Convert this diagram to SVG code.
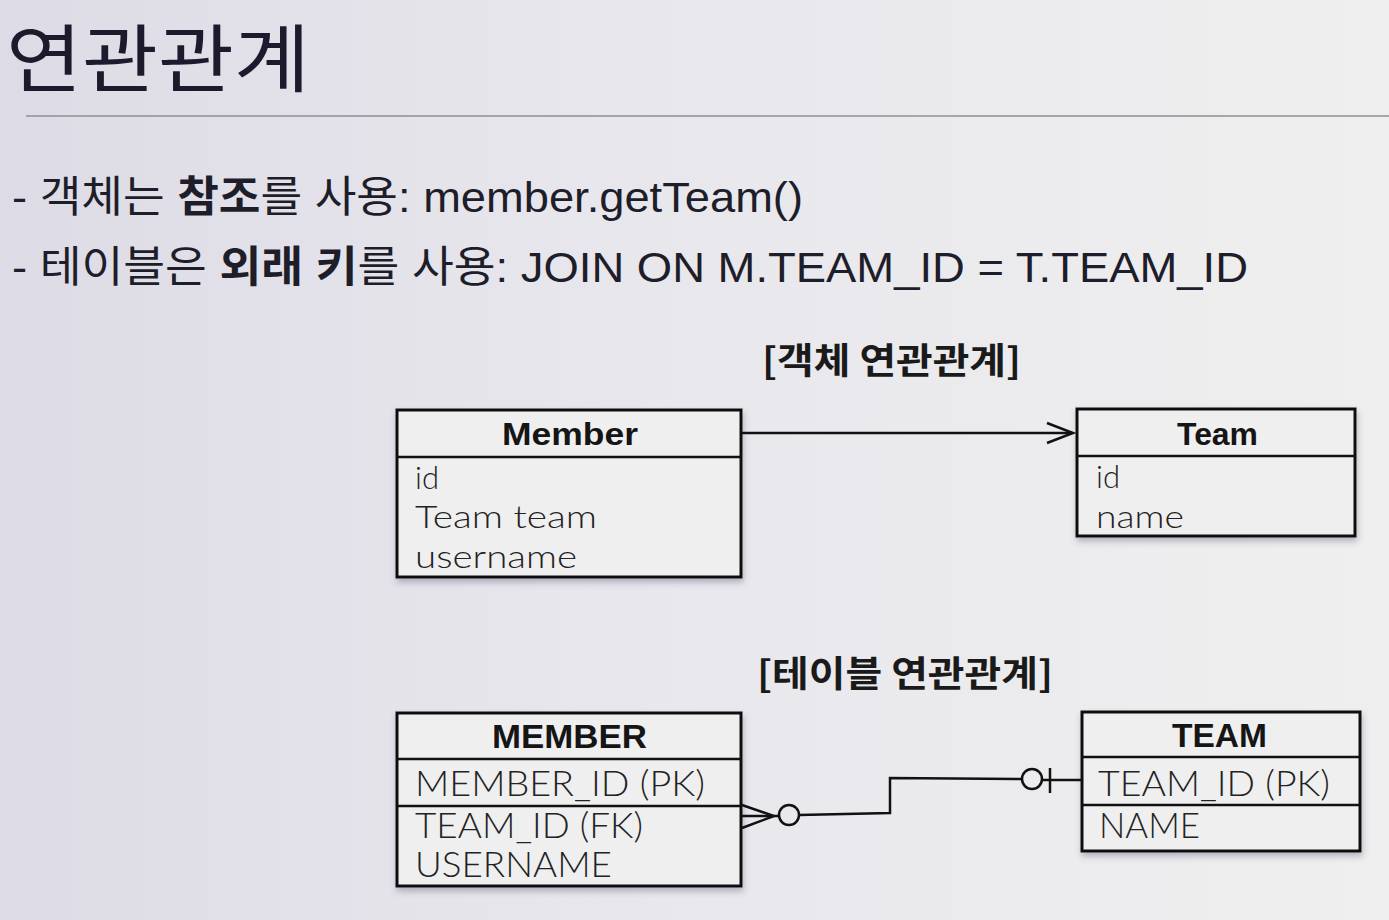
<svg xmlns="http://www.w3.org/2000/svg" width="1389" height="920" viewBox="0 0 1389 920">
  <defs>
    <linearGradient id="bg" x1="0" y1="0" x2="1" y2="0">
      <stop offset="0" stop-color="#dddce6"/>
      <stop offset="0.4" stop-color="#e7e6ec"/>
      <stop offset="1" stop-color="#efefef"/>
    </linearGradient>
    <filter id="shadow" x="-10%" y="-10%" width="120%" height="130%">
      <feDropShadow dx="1" dy="4" stdDeviation="3" flood-color="#4a4a66" flood-opacity="0.35"/>
    </filter>
    <style>
      .box { fill: #efeff0; stroke: #111; stroke-width: 3; }
      .div { stroke: #111; stroke-width: 2.5; }
      .hdr { font-family: "Liberation Sans", "DejaVu Sans", sans-serif; font-weight: bold; fill: #151515; }
      .attr { font-family: "Lato", "Liberation Sans", sans-serif; font-weight: 300; fill: #222; }
      .con { fill: none; stroke: #111; stroke-width: 2.5; }
      .body { font-family: "Liberation Sans", "Noto Sans CJK KR", sans-serif; font-size: 43px; fill: #1e1d2a; }
      .lbl { font-family: "Noto Sans CJK KR", "Liberation Sans", sans-serif; font-weight: bold; font-size: 36px; fill: #1a1a1a; }
    </style>
  </defs>
  <rect x="0" y="0" width="1389" height="920" fill="url(#bg)"/>

  <g id="title">
    <text x="6" y="86" font-family="Noto Sans CJK KR, sans-serif" font-weight="normal" font-size="74" fill="#1c1b2e" textLength="304" lengthAdjust="spacingAndGlyphs">연관관계</text>
    <line x1="26" y1="116" x2="1389" y2="116" stroke="#8e8e94" stroke-width="1.5"/>
  </g>

  <g id="bullets">
    <text class="body" x="12" y="212" textLength="791" lengthAdjust="spacingAndGlyphs">- 객체는 <tspan font-weight="bold">참조</tspan>를 사용: member.getTeam()</text>
    <text class="body" x="12" y="282" textLength="1236" lengthAdjust="spacingAndGlyphs">- 테이블은 <tspan font-weight="bold">외래 키</tspan>를 사용: JOIN ON M.TEAM_ID = T.TEAM_ID</text>
  </g>

  <g id="label-object">
    <text class="lbl" x="762" y="374" textLength="259" lengthAdjust="spacingAndGlyphs">[객체 연관관계]</text>
  </g>
  <g id="label-table">
    <text class="lbl" x="757" y="687" textLength="296" lengthAdjust="spacingAndGlyphs">[테이블 연관관계]</text>
  </g>

  <g id="node-Member">
    <rect class="box" x="397" y="410" width="344" height="167" filter="url(#shadow)"/>
    <line class="div" x1="397" y1="457" x2="741" y2="457"/>
    <text class="hdr" x="502" y="445" font-size="32" textLength="136" lengthAdjust="spacingAndGlyphs">Member</text>
    <text class="attr" x="415" y="489" font-size="31" textLength="24" lengthAdjust="spacingAndGlyphs">id</text>
    <text class="attr" x="415" y="528" font-size="31" textLength="182" lengthAdjust="spacingAndGlyphs">Team team</text>
    <text class="attr" x="415" y="568" font-size="31" textLength="162" lengthAdjust="spacingAndGlyphs">username</text>
  </g>

  <g id="node-Team">
    <rect class="box" x="1077" y="409" width="278" height="127" filter="url(#shadow)"/>
    <line class="div" x1="1077" y1="456" x2="1355" y2="456"/>
    <text class="hdr" x="1177" y="445" font-size="32" textLength="81" lengthAdjust="spacingAndGlyphs">Team</text>
    <text class="attr" x="1096" y="488" font-size="31" textLength="24" lengthAdjust="spacingAndGlyphs">id</text>
    <text class="attr" x="1096" y="528" font-size="31" textLength="88" lengthAdjust="spacingAndGlyphs">name</text>
  </g>

  <g id="node-MEMBER">
    <rect class="box" x="397" y="713" width="344" height="173" filter="url(#shadow)"/>
    <line class="div" x1="397" y1="759" x2="741" y2="759"/>
    <line class="div" x1="397" y1="806" x2="741" y2="806"/>
    <text class="hdr" x="492" y="748" font-size="34" textLength="155" lengthAdjust="spacingAndGlyphs">MEMBER</text>
    <text class="attr" x="415" y="796" font-size="35" textLength="290" lengthAdjust="spacingAndGlyphs">MEMBER_ID (PK)</text>
    <text class="attr" x="415" y="838" font-size="35" textLength="228" lengthAdjust="spacingAndGlyphs">TEAM_ID (FK)</text>
    <text class="attr" x="415" y="877" font-size="35" textLength="197" lengthAdjust="spacingAndGlyphs">USERNAME</text>
  </g>

  <g id="node-TEAM">
    <rect class="box" x="1082" y="712" width="278" height="139" filter="url(#shadow)"/>
    <line class="div" x1="1082" y1="757" x2="1360" y2="757"/>
    <line class="div" x1="1082" y1="805" x2="1360" y2="805"/>
    <text class="hdr" x="1172" y="747" font-size="34" textLength="95" lengthAdjust="spacingAndGlyphs">TEAM</text>
    <text class="attr" x="1098" y="796" font-size="35" textLength="232" lengthAdjust="spacingAndGlyphs">TEAM_ID (PK)</text>
    <text class="attr" x="1099" y="838" font-size="35" textLength="101" lengthAdjust="spacingAndGlyphs">NAME</text>
  </g>

  <g id="connectors">
    <g id="edge-Member-Team">
      <line class="con" x1="742" y1="433" x2="1072" y2="433"/>
      <polyline class="con" points="1047,423 1073,433 1047,443"/>
    </g>
    <g id="edge-MEMBER-TEAM">
      <polyline class="con" points="742,805 774,816 742,828"/>
      <line class="con" x1="742" y1="816" x2="779" y2="816"/>
      <circle class="con" cx="789" cy="815" r="10"/>
      <polyline class="con" points="799,815 890,813 890,778 1022,779"/>
      <circle class="con" cx="1032" cy="779" r="10"/>
      <line class="con" x1="1042" y1="780" x2="1082" y2="780"/>
      <line class="con" x1="1050" y1="768" x2="1050" y2="793"/>
    </g>
  </g>
</svg>
